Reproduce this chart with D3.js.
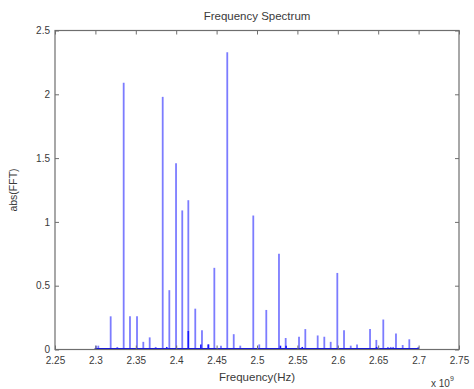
<!DOCTYPE html>
<html>
<head>
<meta charset="utf-8">
<script src="https://cdn.jsdelivr.net/npm/d3@7"></script>
<style>
  html, body { margin: 0; padding: 0; background: #fff; }
  svg { display: block; font-family: "Liberation Sans", Arial, sans-serif; }
</style>
</head>
<body>
<svg id="chart" width="474" height="389"></svg>
<script>
// Frequencies in units of 1e9 Hz
const freqs = [2.3007, 2.3036, 2.3189, 2.3271, 2.3350, 2.3428, 2.3515, 2.3593, 2.3672, 2.3746,
  2.3833, 2.3915, 2.3998, 2.4075, 2.4150, 2.4236, 2.4319, 2.4394, 2.4472, 2.4554,
  2.4632, 2.4712, 2.4793, 2.4954, 2.5028, 2.5115, 2.5272, 2.5355, 2.5520, 2.5598,
  2.5751, 2.5833, 2.5912, 2.5994, 2.6077, 2.6160, 2.6238, 2.6399, 2.6477, 2.6563,
  2.6620, 2.6655, 2.6685, 2.6720, 2.6803, 2.6885, 2.6996];
const amps = [0.03, 0.03, 0.26, 0.02, 2.09, 0.26, 0.26, 0.06, 0.095, 0.02,
  1.98, 0.465, 1.46, 1.09, 1.17, 0.32, 0.15, 0.04, 0.64, 0.03,
  2.33, 0.12, 0.03, 1.05, 0.04, 0.31, 0.75, 0.09, 0.10, 0.16,
  0.11, 0.10, 0.06, 0.60, 0.15, 0.03, 0.04, 0.16, 0.075, 0.235,
  0.02, 0.02, 0.02, 0.125, 0.035, 0.08, 0.02];
// small overlapping components drawn darker
const minorFreqs = [2.3883, 2.4150, 2.4305, 2.4400, 2.5290, 2.5360, 2.5560, 2.6480];
const minorAmps  = [0.02, 0.145, 0.04, 0.04, 0.03, 0.03, 0.02, 0.02];
const baselineRange = [2.2990, 2.7005];

const xTicks = [2.25, 2.3, 2.35, 2.4, 2.45, 2.5, 2.55, 2.6, 2.65, 2.7, 2.75];
const yTicks = [0, 0.5, 1, 1.5, 2, 2.5];

const title = "Frequency Spectrum";
const xLabel = "Frequency(Hz)";
const yLabel = "abs(FFT)";

const W = 474, H = 389;
const m = { left: 55, right: 15, top: 30.5, bottom: 39.5 };
const svg = d3.select("#chart");

const x = d3.scaleLinear().domain([2.25, 2.75]).range([m.left, W - m.right]);
const y = d3.scaleLinear().domain([0, 2.5]).range([H - m.bottom, m.top]);

const axisColor = "#6e6e6e";
const textColor = "#3a3a3a";

// stems
svg.append("g").selectAll("line").data(freqs).join("line")
  .attr("x1", d => x(d)).attr("x2", d => x(d))
  .attr("y1", y(0)).attr("y2", (d, i) => y(amps[i]))
  .attr("stroke", "#7c7cff").attr("stroke-width", 1.8);

svg.append("g").selectAll("line").data(minorFreqs).join("line")
  .attr("x1", d => x(d)).attr("x2", d => x(d))
  .attr("y1", y(0)).attr("y2", (d, i) => y(minorAmps[i]))
  .attr("stroke", "#1a1aff").attr("stroke-width", 1.6);

// baseline of the spectrum
svg.append("line")
  .attr("x1", x(baselineRange[0])).attr("x2", x(baselineRange[1]))
  .attr("y1", y(0) - 0.5).attr("y2", y(0) - 0.5)
  .attr("stroke", "#1010e0").attr("stroke-width", 2);

// axes
function styleAxis(g) {
  g.select(".domain").remove();
  g.selectAll(".tick line").attr("stroke", axisColor);
  g.selectAll(".tick text").attr("fill", textColor).attr("font-size", 10);
}
svg.append("g").attr("transform", `translate(0,${y(0)})`)
  .call(d3.axisBottom(x).tickValues(xTicks).tickSize(-4).tickPadding(7).tickFormat(d3.format("~g")))
  .call(styleAxis);
svg.append("g").attr("transform", `translate(0,${y(2.5)})`)
  .call(d3.axisTop(x).tickValues(xTicks).tickSize(-4).tickFormat(""))
  .call(styleAxis);
svg.append("g").attr("transform", `translate(${x(2.25)},0)`)
  .call(d3.axisLeft(y).tickValues(yTicks).tickSize(-4).tickPadding(5).tickFormat(d3.format("~g")))
  .call(styleAxis);
svg.append("g").attr("transform", `translate(${x(2.75)},0)`)
  .call(d3.axisRight(y).tickValues(yTicks).tickSize(-4).tickFormat(""))
  .call(styleAxis);

// box
svg.append("rect")
  .attr("x", x(2.25)).attr("y", y(2.5))
  .attr("width", x(2.75) - x(2.25)).attr("height", y(0) - y(2.5))
  .attr("fill", "none").attr("stroke", axisColor).attr("stroke-width", 1.2);

// labels
svg.append("text").attr("x", (x(2.25) + x(2.75)) / 2).attr("y", 20)
  .attr("text-anchor", "middle").attr("font-size", 11.5).attr("fill", textColor).text(title);
svg.append("text").attr("x", (x(2.25) + x(2.75)) / 2).attr("y", 381)
  .attr("text-anchor", "middle").attr("font-size", 11.5).attr("fill", textColor).text(xLabel);
svg.append("text").attr("transform", `translate(17,${(y(0) + y(2.5)) / 2}) rotate(-90)`)
  .attr("text-anchor", "middle").attr("font-size", 10.5).attr("fill", textColor).text(yLabel);

const exp = svg.append("text").attr("x", 431).attr("y", 387)
  .attr("font-size", 10).attr("fill", textColor);
exp.append("tspan").text("x 10");
exp.append("tspan").attr("dy", -6).attr("font-size", 7).text("9");
</script>
</body>
</html>
